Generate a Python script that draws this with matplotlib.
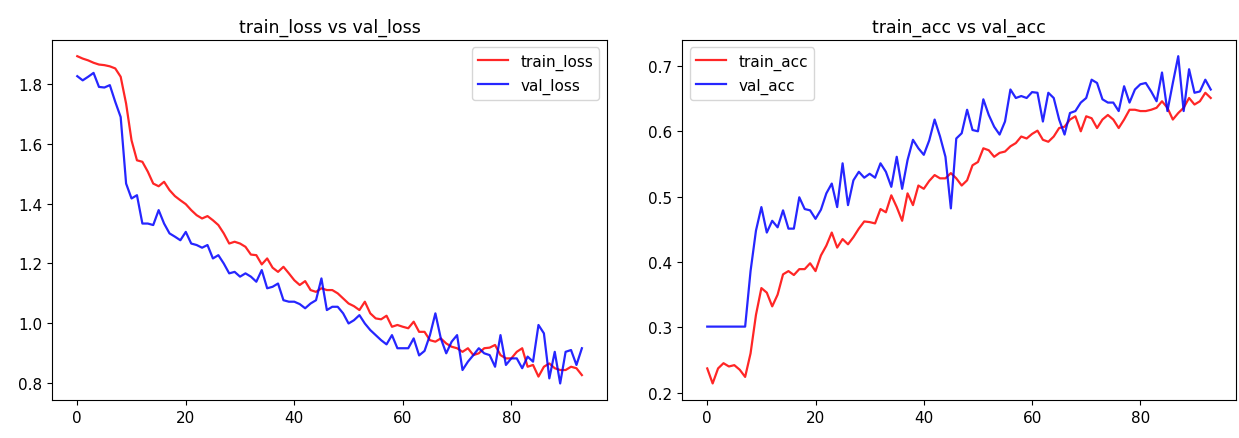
import numpy as np
import matplotlib
matplotlib.use("Agg")
import matplotlib.pyplot as plt

# per-epoch history (94 epochs)
train_loss = [1.894, 1.886, 1.880, 1.872, 1.866, 1.864, 1.860, 1.853, 1.825, 1.735,
              1.612, 1.545, 1.540, 1.507, 1.467, 1.458, 1.473, 1.445, 1.425, 1.411,
              1.398, 1.378, 1.361, 1.350, 1.358, 1.344, 1.328, 1.300, 1.266, 1.272,
              1.266, 1.255, 1.229, 1.227, 1.196, 1.216, 1.185, 1.171, 1.188, 1.166,
              1.143, 1.127, 1.140, 1.110, 1.104, 1.116, 1.110, 1.110, 1.099, 1.082,
              1.065, 1.056, 1.043, 1.071, 1.032, 1.015, 1.012, 1.024, 0.987, 0.993,
              0.987, 0.982, 1.004, 0.970, 0.970, 0.942, 0.937, 0.948, 0.931, 0.920,
              0.915, 0.903, 0.915, 0.892, 0.898, 0.915, 0.917, 0.926, 0.892, 0.881,
              0.881, 0.903, 0.915, 0.853, 0.859, 0.820, 0.853, 0.864, 0.848, 0.842,
              0.842, 0.853, 0.848, 0.825]
val_loss = [1.827, 1.813, 1.825, 1.838, 1.791, 1.789, 1.797, 1.741, 1.690, 1.467,
            1.417, 1.428, 1.333, 1.333, 1.328, 1.378, 1.333, 1.300, 1.289, 1.277,
            1.305, 1.266, 1.261, 1.252, 1.261, 1.216, 1.227, 1.199, 1.166, 1.171,
            1.155, 1.166, 1.155, 1.138, 1.177, 1.116, 1.121, 1.132, 1.076, 1.071,
            1.071, 1.063, 1.049, 1.065, 1.076, 1.149, 1.043, 1.054, 1.054, 1.032,
            0.998, 1.009, 1.026, 0.998, 0.976, 0.959, 0.942, 0.928, 0.959, 0.915,
            0.915, 0.915, 0.948, 0.891, 0.906, 0.959, 1.032, 0.948, 0.898, 0.937,
            0.959, 0.842, 0.870, 0.892, 0.915, 0.898, 0.892, 0.853, 0.959, 0.859,
            0.881, 0.881, 0.848, 0.887, 0.870, 0.993, 0.965, 0.814, 0.903, 0.797,
            0.903, 0.909, 0.859, 0.915]
train_acc = [0.237, 0.214, 0.237, 0.245, 0.240, 0.242, 0.235, 0.224, 0.260, 0.319,
             0.360, 0.353, 0.332, 0.350, 0.381, 0.386, 0.380, 0.389, 0.389, 0.398,
             0.386, 0.410, 0.425, 0.445, 0.422, 0.435, 0.427, 0.438, 0.451, 0.462,
             0.461, 0.459, 0.481, 0.476, 0.502, 0.484, 0.463, 0.505, 0.487, 0.517,
             0.512, 0.524, 0.533, 0.528, 0.528, 0.536, 0.528, 0.517, 0.525, 0.548,
             0.553, 0.574, 0.571, 0.561, 0.567, 0.569, 0.577, 0.582, 0.592, 0.589,
             0.596, 0.601, 0.587, 0.584, 0.592, 0.605, 0.607, 0.618, 0.623, 0.600,
             0.623, 0.620, 0.605, 0.618, 0.625, 0.618, 0.605, 0.618, 0.633, 0.633,
             0.631, 0.631, 0.633, 0.636, 0.646, 0.636, 0.618, 0.628, 0.636, 0.651,
             0.641, 0.646, 0.659, 0.651]
val_acc = [0.301, 0.301, 0.301, 0.301, 0.301, 0.301, 0.301, 0.301, 0.386, 0.448,
           0.484, 0.445, 0.463, 0.453, 0.479, 0.451, 0.451, 0.499, 0.481, 0.479,
           0.466, 0.480, 0.505, 0.520, 0.484, 0.551, 0.487, 0.525, 0.538, 0.529,
           0.535, 0.529, 0.551, 0.538, 0.515, 0.561, 0.512, 0.556, 0.587, 0.574,
           0.564, 0.586, 0.618, 0.592, 0.561, 0.482, 0.589, 0.597, 0.633, 0.602,
           0.600, 0.649, 0.625, 0.607, 0.595, 0.615, 0.664, 0.651, 0.654, 0.651,
           0.660, 0.659, 0.615, 0.659, 0.651, 0.618, 0.595, 0.628, 0.631, 0.644,
           0.651, 0.679, 0.674, 0.649, 0.644, 0.644, 0.631, 0.669, 0.644, 0.664,
           0.672, 0.674, 0.661, 0.646, 0.690, 0.631, 0.674, 0.715, 0.631, 0.695,
           0.659, 0.661, 0.679, 0.664]

epochs = np.arange(len(train_loss))

fig = plt.figure(figsize=(12.39, 4.39), dpi=100)
ax1 = fig.add_axes([0.042, 0.087, 0.448, 0.820])
ax2 = fig.add_axes([0.5505, 0.087, 0.447, 0.820])

ax1.plot(epochs, train_loss, 'r', lw=1.6, alpha=0.85, label='train_loss')
ax1.plot(epochs, val_loss, 'b', lw=1.6, alpha=0.85, label='val_loss')
ax1.set_title('train_loss vs val_loss', fontsize=12.5)
ax1.legend(loc='upper right', fontsize=11)

ax2.plot(epochs, train_acc, 'r', lw=1.6, alpha=0.85, label='train_acc')
ax2.plot(epochs, val_acc, 'b', lw=1.6, alpha=0.85, label='val_acc')
ax2.set_title('train_acc vs val_acc', fontsize=12.5)
ax2.legend(loc='upper left', fontsize=11)

for ax in (ax1, ax2):
    ax.tick_params(labelsize=11)
    ax.set_xticks([0, 20, 40, 60, 80])

fig.savefig('out.png', dpi=100)
